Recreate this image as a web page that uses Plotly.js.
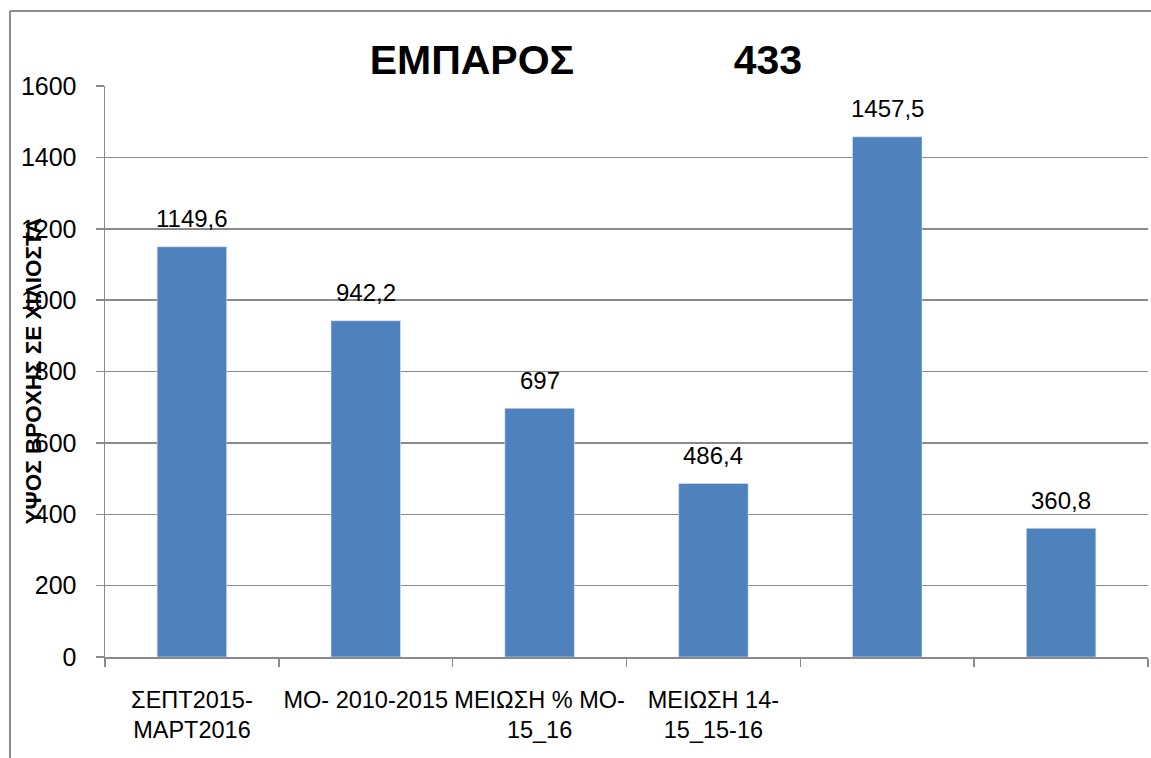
<!DOCTYPE html>
<html>
<head>
<meta charset="utf-8">
<script src="https://cdn.plot.ly/plotly-3.0.1.min.js"></script>
<style>html,body{margin:0;padding:0;background:#fff;}#chart{width:1151px;height:758px;}</style>
</head>
<body>
<div id="chart"></div>
<script>
// ---- data ----
const categoryKeys = ['c1', 'c2', 'c3', 'c4', 'c5', 'c6'];
const tickLabels = ['ΣΕΠΤ2015-<br>ΜΑΡΤ2016', 'ΜΟ- 2010-2015', 'ΜΕΙΩΣΗ % ΜΟ-<br>15_16', 'ΜΕΙΩΣΗ 14-<br>15_15-16', '', ''];
const values = [1149.6, 942.2, 697, 486.4, 1457.5, 360.8];
const titleName = 'ΕΜΠΑΡΟΣ';
const titleCode = '433';
const yTitle = 'ΥΨΟΣ ΒΡΟΧΗΣ ΣΕ ΧΙΛΙΟΣΤΑ';
const yTicks = [0, 200, 400, 600, 800, 1000, 1200, 1400, 1600];

const FONT = 'Liberation Sans, Arial, sans-serif';
const GRID = '#8a8a8a';

const labelText = values.map(v => String(v).replace('.', ','));

const trace = {
  type: 'bar',
  x: categoryKeys,
  y: values,
  marker: {color: '#4F81BD', line: {color: '#dfe7f2', width: 0.6}},
  hoverinfo: 'skip',
  showlegend: false
};

const annotations = categoryKeys.map((k, i) => ({
  x: k, y: values[i], xref: 'x', yref: 'y',
  text: labelText[i], showarrow: false,
  yanchor: 'middle', yshift: 28,
  font: {family: FONT, size: 24, color: '#000'}
}));
annotations.push({
  xref: 'paper', yref: 'paper', x: -0.069, y: 0.5,
  text: yTitle, textangle: -90, showarrow: false,
  xanchor: 'center', yanchor: 'middle',
  font: {family: FONT, size: 22.5, color: '#000', weight: 'bold'}
});

const layout = {
  width: 1151, height: 758,
  margin: {l: 105, r: 3, t: 86, b: 101},
  paper_bgcolor: '#fff', plot_bgcolor: '#fff',
  title: {
    text: '<b>' + titleName + '\u00A0'.repeat(14) + titleCode + '</b>',
    x: 0.509, xref: 'container', xanchor: 'center',
    y: 1 - 60 / 758, yref: 'container', yanchor: 'middle',
    font: {family: FONT, size: 41, color: '#000'}
  },
  bargap: 0.6,
  xaxis: {
    type: 'category',
    tickvals: categoryKeys, ticktext: tickLabels,
    tickangle: 0,
    tickson: 'boundaries',
    ticks: 'outside', ticklen: 8, tickcolor: GRID, tickwidth: 1.5,
    showline: true, linecolor: GRID, linewidth: 1.5,
    showgrid: false, zeroline: false,
    ticklabelstandoff: 21,
    tickfont: {family: FONT, size: 23.5, color: '#000'},
    fixedrange: true
  },
  yaxis: {
    range: [0, 1600], tickvals: yTicks,
    ticks: 'outside', ticklen: 8, tickcolor: GRID, tickwidth: 1.5,
    showline: true, linecolor: GRID, linewidth: 1.5,
    showgrid: true, gridcolor: GRID, gridwidth: 1.5,
    zeroline: false,
    ticklabelstandoff: 14,
    tickfont: {family: FONT, size: 25, color: '#000'},
    fixedrange: true
  },
  annotations: annotations,
  shapes: [
    {type: 'line', xref: 'paper', yref: 'paper', x0: -0.0911, x1: -0.0911, y0: -0.3, y1: 1.1313,
     line: {color: '#8c8c8c', width: 2}},
    {type: 'line', xref: 'paper', yref: 'paper', x0: -0.0911, x1: 1.01, y0: 1.1313, y1: 1.1313,
     line: {color: '#8c8c8c', width: 2}}
  ]
};

Plotly.newPlot('chart', [trace], layout, {displayModeBar: false, staticPlot: true});
</script>
</body>
</html>
